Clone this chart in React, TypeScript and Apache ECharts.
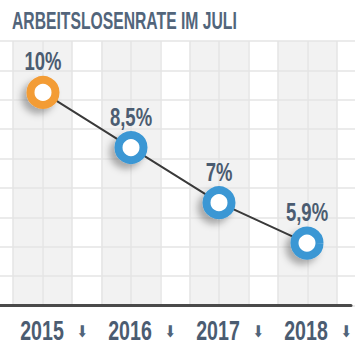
import React, { useEffect, useRef } from "react";
import * as echarts from "echarts";

const titleText = "ARBEITSLOSENRATE IM JULI";
const years = ["2015", "2016", "2017", "2018"];
const rates = [10, 8.5, 7, 5.9];
const rateLabels = ["10%", "8,5%", "7%", "5,9%"];
const yMin = 4.2;
const yMax = 11.4;

const FONT = '"Liberation Sans", Arial, sans-serif';
const TEXT = "#4b5c71";
const ORANGE = "#f39c35";
const BLUE = "#3a97d4";

export default function App() {
  const ref = useRef<HTMLDivElement>(null);
  useEffect(() => {
    if (!ref.current) return;
    const chart = echarts.init(ref.current, null, { renderer: "svg" });
    const option: any = {
      animation: false,
      backgroundColor: "#ffffff",
      graphic: [
        {
          type: "text",
          x: 12,
          y: 21,
          scaleX: 0.655,
          z: 10,
          style: {
            text: titleText,
            font: `bold 24px ${FONT}`,
            fill: "#52657b",
            verticalAlign: "middle",
          },
        },
      ],
      grid: [
        { left: -1, width: 352, top: 41, bottom: 45.4, outerBoundsMode: "none" },
        { left: -16.45, width: 382.85, top: 41, bottom: 45.4, outerBoundsMode: "none" },
      ],
      xAxis: [
        {
          type: "category",
          gridIndex: 0,
          data: years,
          boundaryGap: true,
          axisTick: { show: false },
          axisLine: { lineStyle: { color: "#4a4a4a", width: 3 } },
          axisLabel: { show: false },
          splitLine: { show: false },
          z: 5,
        },
        {
          type: "value",
          gridIndex: 1,
          min: 0,
          max: 13,
          interval: 1,
          z: 0,
          axisLine: { show: false },
          axisTick: { show: false },
          axisLabel: { show: false },
          splitLine: { show: true, lineStyle: { color: "#e4e4e4", width: 1.5 } },
          splitArea: {
            show: true,
            areaStyle: { color: ["#ffffff", "#f2f2f2", "#f2f2f2"] },
          },
        },
      ],
      yAxis: [
        { type: "value", gridIndex: 0, min: yMin, max: yMax, show: false },
        {
          type: "value",
          gridIndex: 1,
          min: 0,
          max: 9,
          interval: 1,
          z: 1,
          axisLine: { show: false },
          axisTick: { show: false },
          axisLabel: { show: false },
          splitLine: { show: true, lineStyle: { color: "#e4e4e4", width: 1.5 } },
        },
      ],
      series: [
        {
          type: "line",
          xAxisIndex: 0,
          yAxisIndex: 0,
          data: rates.map((v, i) => ({
            value: v,
            itemStyle: { borderColor: i === 0 ? ORANGE : BLUE },
          })),
          lineStyle: { color: "#3a3a3a", width: 2 },
          symbol: "circle",
          symbolSize: 25,
          itemStyle: {
            color: "#ffffff",
            borderWidth: 8,
            shadowColor: "rgba(0,0,0,0.3)",
            shadowBlur: 7,
            shadowOffsetX: -5,
            shadowOffsetY: 5,
          },
          z: 5,
        },
        {
          type: "custom",
          xAxisIndex: 0,
          yAxisIndex: 0,
          z: 6,
          silent: true,
          data: rates.map((v, i) => [i, v]),
          renderItem: (params: any, api: any) => {
            const p = api.coord([api.value(0), api.value(1)]);
            return {
              type: "text",
              x: p[0],
              y: p[1] - 30.5,
              scaleX: 0.74,
              style: {
                text: rateLabels[params.dataIndex],
                font: `bold 25px ${FONT}`,
                fill: TEXT,
                align: "center",
                verticalAlign: "middle",
              },
            };
          },
        },
        {
          type: "custom",
          xAxisIndex: 0,
          yAxisIndex: 0,
          z: 6,
          silent: true,
          clip: false,
          data: years.map((y, i) => [i, yMin]),
          renderItem: (params: any, api: any) => {
            const p = api.coord([api.value(0), yMin]);
            return {
              type: "group",
              children: [
                {
                  type: "text",
                  x: p[0] - 1,
                  y: p[1] + 24.5,
                  scaleX: 0.7,
                  style: {
                    text: years[params.dataIndex],
                    font: `bold 28px ${FONT}`,
                    fill: TEXT,
                    align: "center",
                    verticalAlign: "middle",
                  },
                },
                {
                  type: "text",
                  x: p[0] + 39,
                  y: p[1] + 26,
                  scaleX: 0.8,
                  style: {
                    text: "⬇",
                    font: `bold 16px "DejaVu Sans"`,
                    fill: "#51647a",
                    align: "center",
                    verticalAlign: "middle",
                  },
                },
              ],
            };
          },
        },
      ],
    };
    chart.setOption(option);
    return () => chart.dispose();
  }, []);
  return (
    <div
      ref={ref}
      style={{ position: "fixed", left: 0, top: 0, width: 355, height: 351 }}
    />
  );
}
